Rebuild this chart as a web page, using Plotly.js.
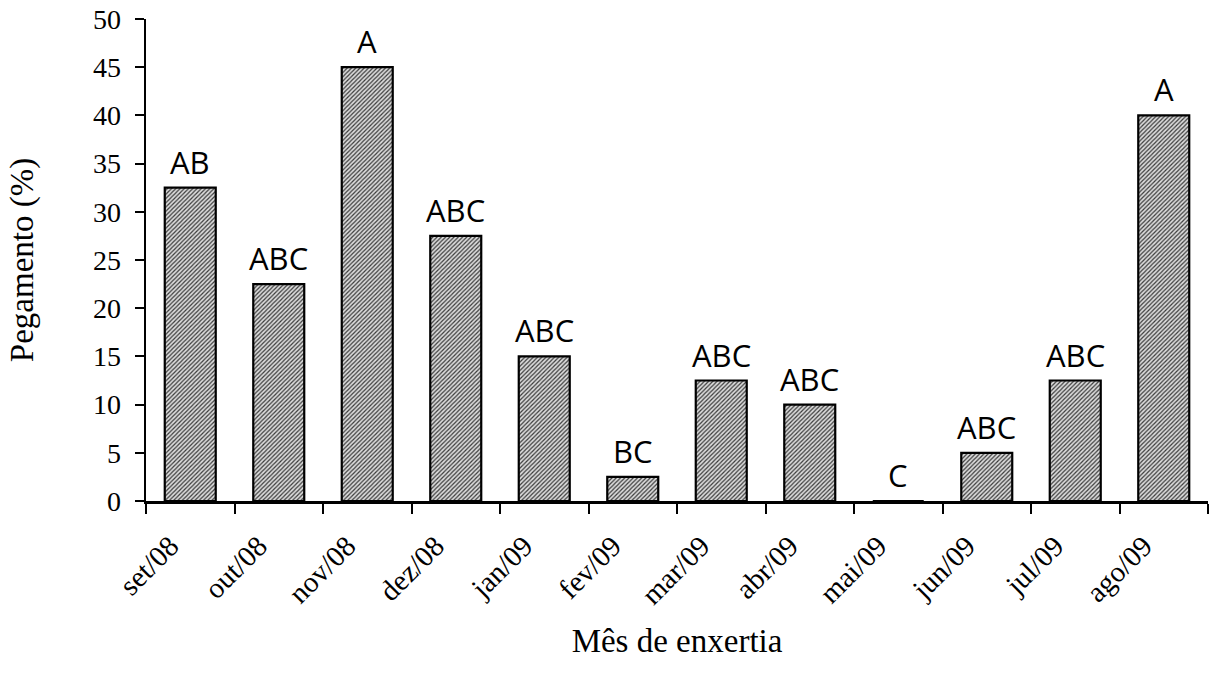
<!DOCTYPE html>
<html>
<head>
<meta charset="utf-8">
<script src="https://cdn.plot.ly/plotly-3.0.1.min.js"></script>
<style>
  html, body { margin: 0; padding: 0; background: #ffffff; }
  #chart { width: 1211px; height: 677px; }
</style>
</head>
<body>
<div id="chart"></div>
<script>
// Grafting month and graft take percentage
const months = ["set/08", "out/08", "nov/08", "dez/08", "jan/09", "fev/09",
                "mar/09", "abr/09", "mai/09", "jun/09", "jul/09", "ago/09"];
const pegamento = [32.5, 22.5, 45, 27.5, 15, 2.5, 12.5, 10, 0, 5, 12.5, 40];
// Mean comparison letters shown above each bar
const letters = ["AB", "ABC", "A", "ABC", "ABC", "BC", "ABC", "ABC", "C", "ABC", "ABC", "A"];

const serif = "Liberation Serif, Times New Roman, serif";

const trace = {
  type: "bar",
  x: months,
  y: pegamento,
  marker: {
    color: "#cccccc",
    line: { color: "#000000", width: 2.2 },
    pattern: { shape: "/", fgcolor: "#3a3a3a", bgcolor: "#dcdcdc", size: 3, solidity: 0.4 }
  },
  hoverinfo: "x+y"
};

const annotations = months.map((m, i) => ({
  x: m,
  y: pegamento[i],
  xref: "x",
  yref: "y",
  text: letters[i],
  showarrow: false,
  yanchor: "bottom",
  yshift: 3,
  font: { family: "Open Sans, sans-serif", size: 31, color: "#000000" }
}));

const layout = {
  width: 1211,
  height: 677,
  margin: { l: 146, r: 3, t: 19, b: 176 },
  paper_bgcolor: "#ffffff",
  plot_bgcolor: "#ffffff",
  showlegend: false,
  bargap: 0.424,
  xaxis: {
    type: "category",
    range: [-0.5, 11.5],
    tickson: "boundaries",
    ticks: "outside",
    ticklen: 10,
    tickwidth: 2,
    tickcolor: "#000000",
    showline: true,
    linecolor: "#000000",
    linewidth: 2.5,
    showgrid: false,
    zeroline: false,
    tickangle: -45,
    ticklabelstandoff: 14,
    ticklabelshift: -20,
    tickfont: { family: serif, size: 29, color: "#000000" },
    automargin: false,
    title: {
      text: "Mês de enxertia",
      font: { family: serif, size: 33, color: "#000000" },
      standoff: 20
    }
  },
  yaxis: {
    range: [0, 50],
    dtick: 5,
    tick0: 0,
    ticks: "outside",
    ticklen: 9,
    tickwidth: 2,
    tickcolor: "#000000",
    showline: true,
    linecolor: "#000000",
    linewidth: 2.5,
    showgrid: false,
    zeroline: false,
    ticklabelstandoff: 8,
    tickfont: { family: serif, size: 28, color: "#000000" },
    automargin: false,
    title: {
      text: "Pegamento (%)",
      font: { family: serif, size: 33, color: "#000000" },
      standoff: 50
    }
  },
  annotations: annotations
};

Plotly.newPlot("chart", [trace], layout, { displayModeBar: false, staticPlot: true });
</script>
</body>
</html>
